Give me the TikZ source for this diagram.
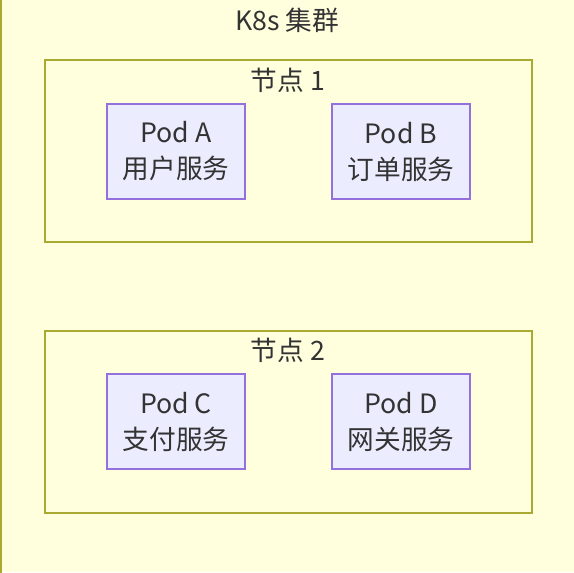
\documentclass[tikz,border=0pt]{standalone}
\usepackage{fontspec}
\setmainfont{Noto Sans CJK SC}
\usepackage{xcolor}
\usetikzlibrary{positioning}
\definecolor{clfill}{HTML}{FFFFDE}
\definecolor{clline}{HTML}{AAAA33}
\definecolor{podfill}{HTML}{ECECFF}
\definecolor{podline}{HTML}{9370DB}
\definecolor{txt}{HTML}{333333}
\tikzset{%
	cluster/.style={rectangle,draw=clline,fill=clfill,line width=1.5,minimum width=365.25pt,minimum height=136.5pt,inner sep=0},
	pod/.style={rectangle,draw=podline,fill=podfill,line width=1.5,minimum width=103.5pt,minimum height=71.25pt,inner sep=0,align=center,font=\fontsize{20}{27}\selectfont,text=txt},
	lbl/.style={font=\fontsize{20}{24}\selectfont,text=txt,inner sep=0},
}
\begin{document}
\begin{tikzpicture}[x=0.75pt,y=-0.75pt]
	\useasboundingbox (0,0) rectangle (574,572);
	\clip (0,0) rectangle (574,572);
	\fill[clfill] (0,0) rectangle (574,572);
	\draw[clline,line width=1.5] (1,-10) rectangle (700,700);
	\node (k8s) at (287,20) [lbl] {K8s 集群};
	
	\node (n1) at (288.5,151) [cluster] {};
	\node (n2) at (288.5,421.5) [cluster] {};
	\node (t1) at (288,80) [lbl] {节点 1};
	\node (t2) at (288,350) [lbl] {节点 2};
	
	\node (pa) at (176,151.5) [pod] {Pod A\\用户服务};
	\node (pb) at (401,151.5) [pod] {Pod B\\订单服务};
	\node (pc) at (176,421.5) [pod] {Pod C\\支付服务};
	\node (pd) at (401,421.5) [pod] {Pod D\\网关服务};
\end{tikzpicture}
\end{document}
